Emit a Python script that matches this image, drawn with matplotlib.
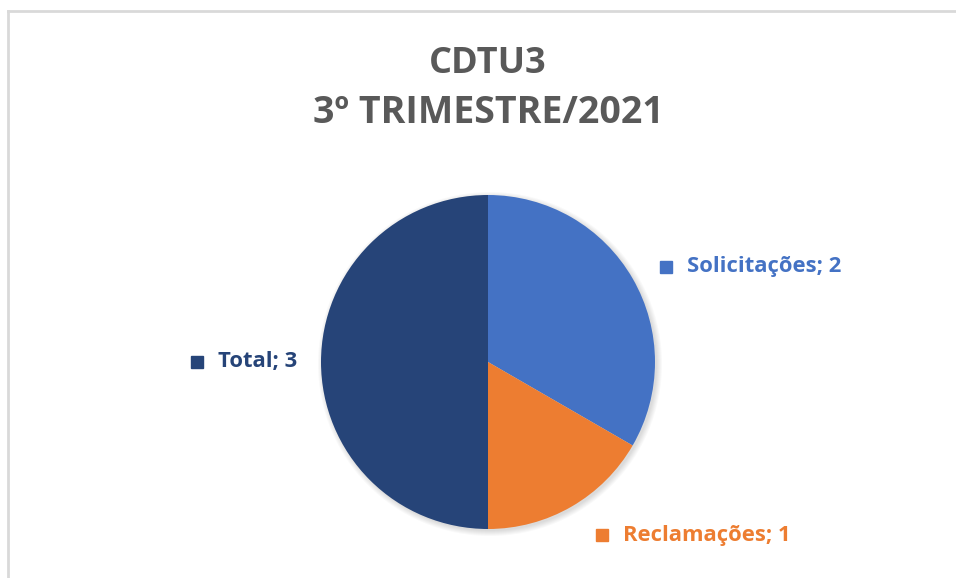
import matplotlib
matplotlib.use("Agg")
import matplotlib.pyplot as plt
from matplotlib.patches import Circle
from matplotlib.lines import Line2D

categories = ["Solicitações", "Reclamações", "Total"]
values = [2, 1, 3]
colors = ["#4472C4", "#ED7D31", "#264478"]
title_lines = ["CDTU3", "3º TRIMESTRE/2021"]

W, H = 956, 578
fig = plt.figure(figsize=(W / 100, H / 100), dpi=100)
fig.patch.set_facecolor("white")

# chart border (only top & left visible in the reference)
fig.add_artist(Line2D([8 / W, 8 / W], [0, 1 - 11 / H], color="#D9D9D9", lw=2))
fig.add_artist(Line2D([8 / W, 1], [1 - 11 / H, 1 - 11 / H], color="#D9D9D9", lw=2))

cx, cy, r = 488, 362, 167
ax = fig.add_axes([(cx - r) / W, (H - cy - r) / H, 2 * r / W, 2 * r / H])
ax.set_xlim(-1, 1)
ax.set_ylim(-1, 1)
ax.set_aspect("equal")
ax.axis("off")

# soft shadow
for i in range(6):
    ax.add_patch(Circle((0.012, -0.012), 1 + 0.006 * i, color="black",
                        alpha=0.025, lw=0, zorder=0, clip_on=False))

ax.pie(values, colors=colors, startangle=90, counterclock=False, radius=1,
       wedgeprops=dict(linewidth=0))
ax.set_xlim(-1, 1)
ax.set_ylim(-1, 1)

font = "Open Sans"
# label positions (axes data units, pie radius = 1)
label_pos = [(1.066, 0.569), (0.683, -1.036), (-1.743, 0.0)]
for cat, val, col, (lx, ly) in zip(categories, values, colors, label_pos):
    ax.plot([lx], [ly], marker="s", markersize=8.6, color=col, clip_on=False, lw=0)
    ax.text(lx + 0.125, ly, f"{cat}; {val}", color=col, fontsize=15.8, fontweight="bold",
            family=font, va="center", ha="left", clip_on=False)

fig.text(cx / W, 1 - 64 / H, title_lines[0], ha="center", va="center",
         fontsize=26, fontweight="bold", color="#595959", family=font)
fig.text(cx / W, 1 - 113 / H, title_lines[1], ha="center", va="center",
         fontsize=27, fontweight="bold", color="#595959", family=font)

fig.savefig("out.png", dpi=100, facecolor="white")
